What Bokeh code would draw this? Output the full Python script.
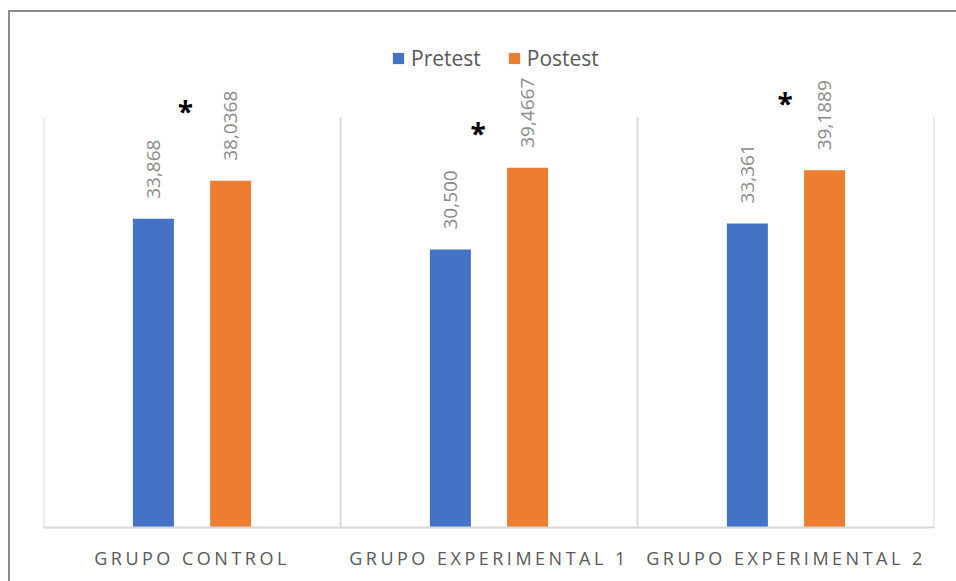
from math import pi
from bokeh.plotting import figure
from bokeh.layouts import column
from bokeh.models import ColumnDataSource, FactorRange, Range1d, Legend, LegendItem
from bokeh.transform import dodge
from bokeh.core.properties import value
from bokeh.embed import file_html
from bokeh.resources import INLINE

# ---- data ----
groups = ["GRUPO CONTROL", "GRUPO EXPERIMENTAL 1", "GRUPO EXPERIMENTAL 2"]
pretest = [33.868, 30.500, 33.361]
postest = [38.0368, 39.4667, 39.1889]
pre_labels = ["33,868", "30,500", "33,361"]
post_labels = ["38,0368", "39,4667", "39,1889"]
series_names = ["Pretest", "Postest"]
axis_max = 45
boundaries = [0, 1, 2, 3]
# significance marks (annotations)
star_text = ["*", "*", "*"]
star_dx = [-0.022, -0.037, -0.003]
star_y = [46.0, 43.6, 46.9]

BLUE = "#4472C4"
ORANGE = "#ED7D31"
FONT = "Open Sans"
LETTER_SPACING = 3.5

src = ColumnDataSource(dict(g=groups, pre=pretest, post=postest,
                            pre_lbl=pre_labels, post_lbl=post_labels))
sep = ColumnDataSource(dict(x=boundaries, y0=[0] * 4, y1=[axis_max] * 4))
stars = ColumnDataSource(dict(x=[i + 0.5 + d for i, d in enumerate(star_dx)],
                              y=star_y, t=star_text))

# frame: 411 px for 45 units, frame height 488 px
y_end = axis_max * 488 / 411

p = figure(width=946, height=521, x_range=FactorRange(*groups, range_padding=0),
           y_range=Range1d(0, y_end), output_backend="svg", toolbar_location=None,
           min_border_left=33, min_border_right=22, min_border_top=28, min_border_bottom=5,
           title=None)

p.outline_line_color = None
p.xgrid.visible = False
p.ygrid.visible = False
p.yaxis.visible = False

p.segment(x0="x", y0="y0", x1="x", y1="y1", source=sep, line_color="#d9d9d9", line_width=2)

off = 0.13
w = 0.138
r_pre = p.vbar(x=dodge("g", -off, range=p.x_range), top="pre", width=w, source=src,
               fill_color=BLUE, line_color=None)
r_post = p.vbar(x=dodge("g", off, range=p.x_range), top="post", width=w, source=src,
                fill_color=ORANGE, line_color=None)

for col, lbl, dx in (("pre", "pre_lbl", -off), ("post", "post_lbl", off)):
    p.text(x=dodge("g", dx, range=p.x_range), y=col, text=lbl, source=src,
           angle=pi / 2, text_align="left", text_baseline="middle", y_offset=-20,
           text_font=value(FONT), text_font_size="19px", text_color="#8a8a8a")

p.text(x="x", y="y", text="t", source=stars, text_align="center", text_baseline="middle",
       y_offset=3, text_font=value(FONT), text_font_size="28px", text_font_style="bold",
       text_color="#000000")

p.xaxis.axis_line_color = "#d9d9d9"
p.xaxis.axis_line_width = 2
p.xaxis.major_tick_line_color = None
p.xaxis.minor_tick_line_color = None
p.xaxis.major_label_text_font_size = "1px"
p.xaxis.major_label_text_alpha = 0
p.xaxis.major_label_standoff = 0

legend = Legend(items=[LegendItem(label=series_names[0], renderers=[r_pre]),
                       LegendItem(label=series_names[1], renderers=[r_post])],
                orientation="horizontal", location=(348, 455),
                border_line_color=None, background_fill_alpha=0,
                label_text_font=FONT, label_text_font_size="21px", label_text_color="#595959",
                glyph_width=14, glyph_height=14, label_standoff=6, spacing=26,
                padding=0, margin=0)
p.add_layout(legend)

# category labels (spaced lettering, like the original)
lab_src = ColumnDataSource(dict(g=groups, y=[0.5] * 3,
                                dx=[-len(g) * LETTER_SPACING / 2 for g in groups]))
p2 = figure(width=946, height=48, x_range=p.x_range, y_range=Range1d(0, 1),
            output_backend="svg", toolbar_location=None,
            min_border_left=33, min_border_right=22, min_border_top=0, min_border_bottom=0)
p2.axis.visible = False
p2.grid.visible = False
p2.outline_line_color = None
p2.text(x="g", y="y", text="g", source=lab_src, x_offset="dx", text_align="center",
        text_baseline="middle", text_font=value(FONT), text_font_size="18px",
        text_color="#595959")
p2.styles = {"letter-spacing": f"{LETTER_SPACING}px"}

lay = column(p, p2, spacing=0,
             styles={"margin-left": "8px", "margin-top": "10px",
                     "border-left": "2px solid #8a8a8a", "border-top": "2px solid #8a8a8a"})

open("out.html", "w").write(file_html(lay, INLINE))
